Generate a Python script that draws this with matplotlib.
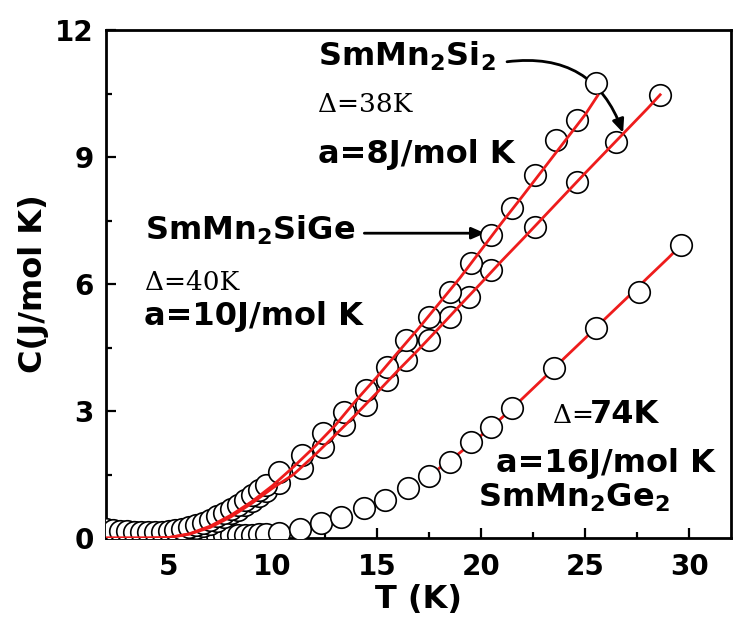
import numpy as np
import matplotlib
matplotlib.use("Agg")
import matplotlib.pyplot as plt
from matplotlib.ticker import MultipleLocator

plt.rcParams['font.family'] = ['DejaVu Sans']
plt.rcParams['mathtext.fontset'] = 'dejavusans'

# low-temperature points (dense part, same T grid for all samples)
t_low = [2.0, 2.33, 2.67, 3.0, 3.33, 3.67, 4.0, 4.33, 4.67, 5.0, 5.33, 5.67,
         6.0, 6.33, 6.67, 7.0, 7.33, 7.67, 8.0, 8.33, 8.67, 9.0, 9.33, 9.67]

# SmMn2SiGe
sige_c_low = [0.22, 0.19, 0.17, 0.16, 0.15, 0.14, 0.14, 0.14, 0.15, 0.16, 0.18, 0.21,
              0.25, 0.30, 0.36, 0.43, 0.51, 0.60, 0.69, 0.79, 0.90, 1.01, 1.13, 1.26]
sige_t_hi = [10.3, 11.4, 12.4, 13.4, 14.5, 15.5, 16.4, 17.5, 18.5, 19.5, 20.5, 21.5,
             22.6, 23.6, 24.6, 25.5]
sige_c_hi = [1.56, 1.96, 2.48, 2.98, 3.50, 4.04, 4.68, 5.22, 5.81, 6.50, 7.16, 7.80,
             8.58, 9.40, 9.87, 10.75]

# SmMn2Si2
si2_c_low = [0.20, 0.17, 0.15, 0.14, 0.13, 0.12, 0.12, 0.12, 0.12, 0.13, 0.14, 0.16,
             0.19, 0.23, 0.28, 0.34, 0.41, 0.49, 0.58, 0.67, 0.77, 0.88, 0.99, 1.10]
si2_t_hi = [10.3, 11.4, 12.4, 13.4, 14.5, 15.5, 16.4, 17.5, 18.5, 19.4, 20.5, 22.6,
            24.6, 26.5, 28.6]
si2_c_hi = [1.30, 1.65, 2.15, 2.67, 3.14, 3.73, 4.20, 4.68, 5.22, 5.69, 6.33, 7.35,
            8.41, 9.36, 10.47]

# SmMn2Ge2
ge2_c_low = [0.12, 0.10, 0.09, 0.08, 0.08, 0.07, 0.07, 0.07, 0.07, 0.07, 0.07, 0.07,
             0.07, 0.07, 0.07, 0.07, 0.07, 0.07, 0.07, 0.07, 0.08, 0.08, 0.09, 0.10]
ge2_t_hi = [10.3, 11.3, 12.3, 13.3, 14.4, 15.4, 16.5, 17.5, 18.5, 19.5, 20.5, 21.5,
            23.5, 25.5, 27.6, 29.6]
ge2_c_hi = [0.12, 0.21, 0.35, 0.50, 0.70, 0.90, 1.18, 1.46, 1.80, 2.27, 2.62, 3.07,
            4.02, 4.96, 5.80, 6.92]

# fitted curves (red)
fit_sige_t = [2, 4, 5, 6, 7, 8, 9, 10, 11, 12, 13, 14, 15, 16, 17, 18, 19, 20, 21,
              22, 23, 24, 25, 25.6]
fit_sige_c = [0, 0, 0.01, 0.10, 0.28, 0.54, 0.86, 1.24, 1.68, 2.15, 2.66, 3.25, 3.80,
              4.38, 4.95, 5.55, 6.15, 6.80, 7.45, 8.08, 8.72, 9.36, 10.0, 10.45]
fit_si2_t = [2, 4, 5, 6, 7, 8, 9, 10, 11, 12, 13, 14, 15, 16, 17, 18, 19, 20, 21,
             22, 23, 24, 25, 26, 27, 28, 28.6]
fit_si2_c = [0, 0, 0.01, 0.09, 0.25, 0.50, 0.82, 1.18, 1.50, 1.95, 2.43, 2.92, 3.43,
             3.95, 4.45, 4.97, 5.50, 6.02, 6.55, 7.06, 7.58, 8.10, 8.62, 9.13, 9.64,
             10.15, 10.47]
fit_ge2_t = [18.0, 19, 20, 21, 22, 23, 24, 25, 26, 27, 28, 29, 29.6]
fit_ge2_c = [1.65, 2.02, 2.42, 2.84, 3.30, 3.77, 4.25, 4.72, 5.20, 5.67, 6.15, 6.62, 6.92]

W, H = 734, 636
fig = plt.figure(figsize=(W / 100, H / 100), dpi=100)
ax = fig.add_axes([106 / W, 1 - 538 / H, 625 / W, 508 / H])

mk = dict(ls='none', marker='o', ms=15.5, mfc='white', mec='black', mew=1.2)

ax.plot(t_low + ge2_t_hi, ge2_c_low + ge2_c_hi, zorder=3, **mk)
ax.plot(fit_ge2_t, fit_ge2_c, color='#ee1c1c', lw=2.0, zorder=2)
ax.plot(t_low + si2_t_hi, si2_c_low + si2_c_hi, zorder=4, **mk)
ax.plot(t_low + sige_t_hi, sige_c_low + sige_c_hi, zorder=5, **mk)
ax.plot(fit_si2_t, fit_si2_c, color='#ee1c1c', lw=2.0, zorder=6)
ax.plot(fit_sige_t, fit_sige_c, color='#ee1c1c', lw=2.0, zorder=6)

ax.set_xlim(2, 32)
ax.set_ylim(0, 12)
ax.xaxis.set_major_locator(MultipleLocator(5))
ax.xaxis.set_minor_locator(MultipleLocator(2.5))
ax.yaxis.set_major_locator(MultipleLocator(3))
ax.yaxis.set_minor_locator(MultipleLocator(1.5))
ax.tick_params(which='both', direction='in', width=1.6, top=False, right=False)
ax.tick_params(which='major', length=7)
ax.tick_params(which='minor', length=4)
ax.tick_params(axis='x', labelsize=20, pad=11)
ax.tick_params(axis='y', labelsize=20, pad=9)
for lab in ax.get_xticklabels() + ax.get_yticklabels():
    lab.set_fontweight('bold')
for sp in ax.spines.values():
    sp.set_linewidth(2.0)

ax.set_xlabel('T (K)', fontsize=23, fontweight='bold', labelpad=2)
ax.set_ylabel('C(J/mol K)', fontsize=23, fontweight='bold', labelpad=4)

bold = dict(fontsize=23, fontweight='bold', ha='left', va='baseline')
serif = dict(fontsize=19, family='DejaVu Serif', ha='left', va='baseline')

ax.text(12.18, 11.17, r'SmMn$_{\mathbf{2}}$Si$_{\mathbf{2}}$', **bold)
ax.text(12.18, 10.06, 'Δ=38K', **serif)
ax.text(12.18, 8.86, 'a=8J/mol K', **bold)

ax.text(3.87, 7.04, r'SmMn$_{\mathbf{2}}$SiGe', **bold)
ax.text(3.87, 5.86, 'Δ=40K', **serif)
ax.text(3.80, 5.03, 'a=10J/mol K', **bold)

ax.text(23.46, 2.72, 'Δ=', **serif)
ax.text(25.24, 2.72, '74K', **bold)
ax.text(20.70, 1.56, 'a=16J/mol K', **bold)
ax.text(19.86, 0.73, r'SmMn$\mathbf{_2}$Ge$\mathbf{_2}$', **bold)

ax.annotate('', xy=(20.19, 7.2), xytext=(14.4, 7.2),
            arrowprops=dict(arrowstyle='-|>,head_length=0.8,head_width=0.35',
                            color='black', lw=2.0, shrinkA=0, shrinkB=0))
ax.annotate('', xy=(26.82, 9.57), xytext=(21.25, 11.25),
            arrowprops=dict(arrowstyle='-|>,head_length=0.8,head_width=0.35',
                            color='black', lw=2.0, shrinkA=0, shrinkB=0,
                            connectionstyle='arc3,rad=-0.4'))

fig.savefig('out.png', dpi=100)
